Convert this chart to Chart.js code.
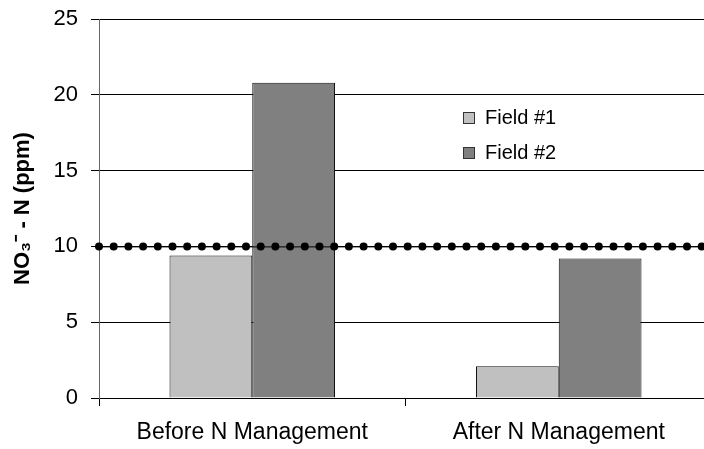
<!DOCTYPE html>
<html>
<head>
<meta charset="utf-8">
<script src="https://cdn.jsdelivr.net/npm/chart.js@4.4.0/dist/chart.umd.min.js"></script>
<style>
  html, body { margin: 0; padding: 0; background: #fff; overflow: hidden; }
  #wrap { position: relative; width: 712px; height: 449px; }
  #legend { position: absolute; left: 463px; top: 106px; font: 20px "Liberation Sans", Arial, sans-serif; color: #000; }
  #legend div { height: 35px; display: flex; align-items: flex-start; white-space: nowrap; }
  #legend span.box { display: inline-block; width: 10px; height: 10px; border: 1px solid #333; margin: 6px 10px 0 0; }
</style>
</head>
<body>
<div id="wrap">
  <canvas id="chart" width="712" height="449"></canvas>
  <div id="legend"></div>
</div>
<script>
// data
const categories = ["Before N Management", "After N Management"];
const field1 = [9.4, 2.1];
const field2 = [20.8, 9.2];
const threshold = [10];
const seriesNames = ["Field #1", "Field #2"];
const seriesColors = ["#c0c0c0", "#808080"];

// dotted limit line at threshold value
const limitLine = {
  id: "limitLine",
  afterDatasetsDraw(chart) {
    const { ctx, chartArea } = chart;
    const y = chart.scales.y.getPixelForValue(threshold[0]);
    ctx.save();
    ctx.strokeStyle = "#000";
    ctx.lineWidth = 1;
    ctx.beginPath();
    ctx.moveTo(chartArea.left, y + 0.5);
    ctx.lineTo(chartArea.right, y + 0.5);
    ctx.stroke();
    ctx.fillStyle = "#000";
    for (let x = chartArea.left; x <= chartArea.right + 4; x += 14.7) {
      ctx.beginPath();
      ctx.arc(x, y, 4, 0, Math.PI * 2);
      ctx.fill();
    }
    ctx.restore();
  }
};

const ctx = document.getElementById("chart").getContext("2d");
const chart = new Chart(ctx, {
  type: "bar",
  data: {
    labels: categories,
    datasets: [
      {
        label: seriesNames[0],
        data: field1,
        backgroundColor: seriesColors[0],
        borderColor: "#111",
        borderWidth: 1
      },
      {
        label: seriesNames[1],
        data: field2,
        backgroundColor: seriesColors[1],
        borderColor: "#111",
        borderWidth: 1
      }
    ]
  },
  options: {
    responsive: false,
    animation: false,
    layout: { padding: { top: 19, left: 0, right: 0, bottom: 0 } },
    categoryPercentage: 0.54,
    barPercentage: 1,
    plugins: {
      legend: { display: false },
      tooltip: { enabled: false }
    },
    scales: {
      x: {
        grid: {
          offset: true,
          drawOnChartArea: false,
          color: "#000",
          tickLength: 8
        },
        border: { color: "#000" },
        ticks: {
          color: "#000",
          font: { family: "Liberation Sans", size: 23 },
          padding: 13
        },
        afterFit(scale) { scale.height = 51; }
      },
      y: {
        min: 0,
        max: 25,
        ticks: {
          stepSize: 5,
          color: "#000",
          font: { family: "Liberation Sans", size: 22 },
          padding: 13
        },
        grid: {
          color: "#000",
          tickLength: 8
        },
        border: { color: "#666" },
        title: {
          display: true,
          text: "NO₃⁻ - N (ppm)",
          color: "#000",
          font: { family: "Liberation Sans", size: 22, weight: "bold" },
          padding: { top: 10, bottom: 4 }
        },
        afterFit(scale) {
          scale.width = 99;
          scale.paddingTop = 0;
          scale.paddingBottom = 0;
        }
      }
    }
  },
  plugins: [limitLine]
});

// legend in html, built from the datasets
const legend = document.getElementById("legend");
chart.data.datasets.forEach(ds => {
  const row = document.createElement("div");
  row.innerHTML = '<span class="box" style="background:' + ds.backgroundColor + '"></span>' + ds.label;
  legend.appendChild(row);
});
</script>
</body>
</html>
